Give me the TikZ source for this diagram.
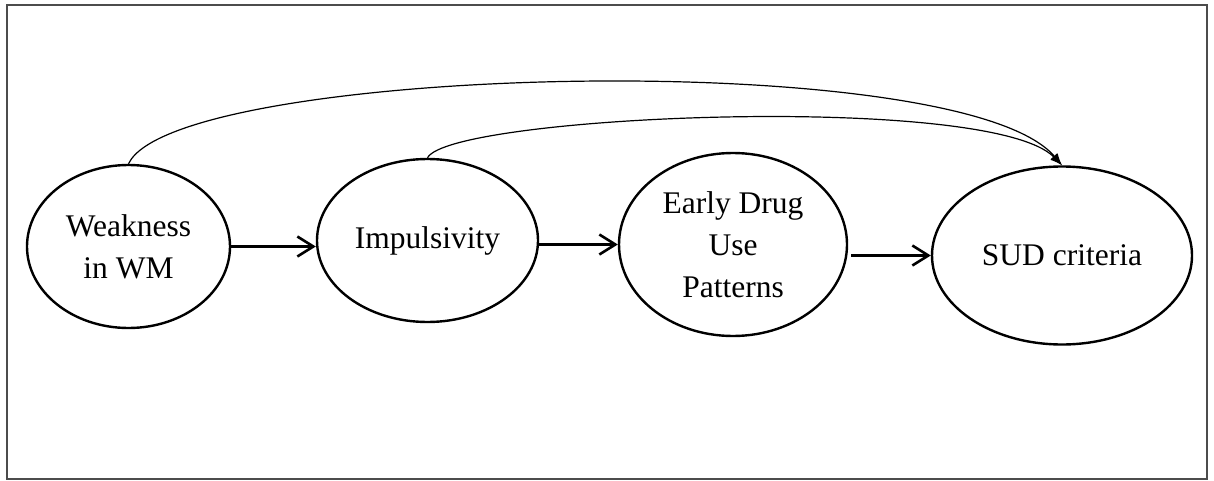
\documentclass[tikz,border=0pt]{standalone}
\usepackage{fontspec}
\setmainfont{Liberation Serif}
\usetikzlibrary{arrows.meta, shapes.geometric}

\begin{document}
\begin{tikzpicture}[
  x=0.5pt, y=-0.5pt,
  font=\fontsize{15.75}{21}\selectfont,
  stage/.style={draw, ellipse, line width=1.2pt, inner sep=0pt, align=center},
  flow/.style={-{Straight Barb[length=8pt,width=10pt]}, line width=1.3pt},
  link/.style={-{Latex[length=6pt,width=4.5pt]}, line width=0.6pt},
]
\useasboundingbox (0,0) rectangle (1214,481);
\draw[black!70, line width=1.3pt] (7,5) rectangle (1207,479);

\node[stage, minimum width=101.5pt, minimum height=81.5pt] (wm)  at (128.5,246.5) {Weakness\\in WM};
\node[stage, minimum width=110.5pt, minimum height=81.5pt] (imp) at (427.5,240.5) {Impulsivity};
\node[stage, minimum width=114pt,   minimum height=91.5pt] (edu) at (733,244.5)   {Early Drug\\Use\\Patterns};
\node[stage, minimum width=130pt,   minimum height=89pt]   (sud) at (1062,255.5)  {SUD criteria};

% chain
\draw[flow] (wm.east) -- (wm.east -| imp.west);
\draw[flow] (imp.east |- edu.west) -- (edu.west);
\draw[flow] ([xshift=1.5pt]edu.east |- sud.west) -- (sud.west);

% direct paths into SUD
\draw[link] (wm.north)  .. controls (175,65)  and (960,45) .. (sud.north);
\draw[link] (imp.north) .. controls (450,115) and (990,92) .. (sud.north);
\end{tikzpicture}
\end{document}
